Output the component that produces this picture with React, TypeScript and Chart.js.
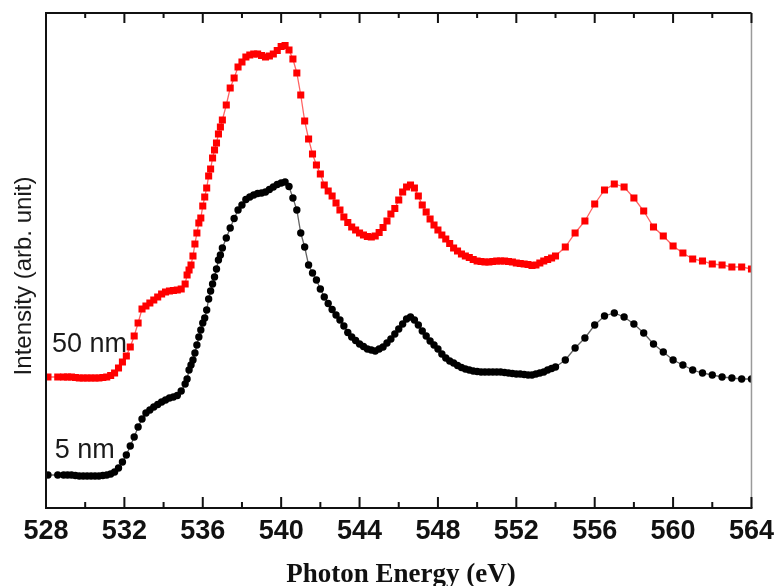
import React, { useEffect, useRef } from "react";
import { Chart, registerables } from "chart.js";

Chart.register(...registerables);

// Photon energy (eV) shared by both spectra
const energies = [
  528.1, 528.6, 528.9, 529.1, 529.3, 529.5, 529.7, 529.9, 530.1, 530.3, 530.5, 530.7, 530.9,
  531.1, 531.3, 531.5, 531.7, 531.9, 532.1, 532.3, 532.5, 532.7, 532.9, 533.1, 533.3, 533.5, 533.7, 533.9, 534.1, 534.3, 534.5, 534.7, 534.9, 535.1,
  535.2, 535.3, 535.4, 535.5, 535.6, 535.7, 535.8, 535.9, 536.0, 536.1, 536.2, 536.3, 536.4, 536.5, 536.6, 536.7, 536.8, 536.9, 537.0,
  537.2, 537.4, 537.6, 537.8, 538.0, 538.2, 538.4, 538.6, 538.8, 539.0,
  539.2, 539.4, 539.6, 539.8, 540.0, 540.2, 540.4, 540.6, 540.8, 541.0,
  541.2, 541.4, 541.6, 541.8, 542.0, 542.2, 542.4, 542.6, 542.8, 543.0,
  543.2, 543.4, 543.6, 543.8, 544.0, 544.2, 544.4, 544.6, 544.8, 545.0,
  545.2, 545.4, 545.6, 545.8, 546.0, 546.2, 546.4, 546.6, 546.8, 547.0,
  547.2, 547.4, 547.6, 547.8, 548.0, 548.2, 548.4, 548.6, 548.8, 549.0,
  549.2, 549.4, 549.6, 549.8, 550.0, 550.2, 550.4, 550.6, 550.8, 551.0,
  551.2, 551.4, 551.6, 551.8, 552.0, 552.2, 552.4, 552.6, 552.8, 553.0,
  553.2, 553.4, 553.6, 553.8,
  554.0, 554.5, 555.0, 555.5, 556.0, 556.5, 557.0, 557.5, 558.0, 558.5, 559.0, 559.5, 560.0, 560.5, 561.0, 561.5, 562.0, 562.5, 563.0, 563.5, 564.0,
];

// 50 nm film (red squares)
const intensity50nm = [
  26.2, 26.2, 26.2, 26.2, 26.2, 26.1, 26.0, 26.0, 26.0, 26.0, 26.0, 26.0, 26.1,
  26.2, 26.5, 27.0, 28.0, 29.2, 30.4, 32.2, 34.4, 37.0, 39.8, 40.4, 41.0, 41.6, 42.2, 42.8, 43.2, 43.4, 43.5, 43.6, 43.8, 44.8,
  46.6, 47.6, 48.6, 50.4, 52.8, 55.0, 57.0, 58.0, 60.4, 62.2, 64.0, 66.4, 67.8, 70.0, 71.6, 73.0, 74.8, 76.2, 77.6,
  80.6, 84.0, 86.0, 88.2, 89.2, 90.2, 90.6, 90.8, 90.8, 90.5,
  90.2, 90.4, 90.8, 91.5, 92.3, 92.5, 91.6, 89.8, 87.0, 82.6,
  77.4, 73.8, 70.8, 68.6, 66.8, 64.6, 63.4, 62.4, 61.0, 59.6,
  58.2, 57.1, 56.2, 55.6, 55.0, 54.6, 54.3, 54.2, 54.4, 55.1,
  56.1, 57.4, 58.8, 59.9, 61.6, 63.2, 64.2, 64.6, 64.0, 62.4,
  60.6, 59.2, 57.8, 56.6, 55.6, 54.6, 53.8, 52.9, 52.0, 51.4,
  50.8, 50.4, 50.1, 49.7, 49.4, 49.3, 49.2, 49.2, 49.3, 49.4,
  49.4, 49.4, 49.3, 49.2, 49.0, 48.9, 48.8, 48.7, 48.5, 48.6,
  49.0, 49.4, 49.7, 50.0,
  50.4, 52.2, 55.0, 57.4, 60.8, 63.6, 64.8, 64.2, 62.0, 59.4, 56.2, 54.4, 52.4, 51.0, 49.8, 49.4, 48.8, 48.6, 48.2, 48.2, 47.8,
];

// 5 nm film (black circles)
const intensity5nm = [
  6.6, 6.6, 6.6, 6.6, 6.6, 6.5, 6.4, 6.4, 6.4, 6.4, 6.4, 6.4, 6.5,
  6.6, 6.8, 7.2, 8.0, 9.2, 10.6, 12.4, 14.2, 16.2, 17.8, 19.0, 19.6, 20.2, 20.7, 21.2, 21.6, 22.0, 22.2, 22.5, 23.4, 24.8,
  25.8, 27.6, 28.6, 29.6, 31.0, 32.6, 34.2, 35.6, 37.0, 38.0, 39.6, 41.8, 43.4, 44.8, 46.2, 47.8, 49.6, 50.6, 52.0,
  54.0, 56.0, 57.9, 59.6, 60.6, 61.7, 62.2, 62.6, 62.9, 63.0,
  63.2, 63.7, 64.2, 64.7, 65.0, 65.2, 64.3, 62.0, 59.6, 55.0,
  52.2, 48.6, 47.0, 45.6, 43.8, 42.2, 40.9, 39.7, 38.6, 37.6,
  36.4, 35.1, 34.2, 33.5, 32.8, 32.3, 31.8, 31.6, 31.4, 31.8,
  32.2, 33.0, 33.8, 34.8, 35.8, 36.8, 37.8, 38.2, 37.6, 36.6,
  35.4, 34.4, 33.4, 32.6, 31.8, 30.8, 30.0, 29.4, 29.0, 28.5,
  28.1, 27.8, 27.6, 27.4, 27.3, 27.2, 27.2, 27.2, 27.2, 27.2,
  27.2, 27.1, 27.0, 26.9, 26.8, 26.8, 26.7, 26.6, 26.6, 26.8,
  27.0, 27.2, 27.6, 27.9,
  28.2, 29.6, 32.0, 34.0, 36.6, 38.4, 39.0, 38.2, 36.8, 35.0, 32.8, 31.2, 29.6, 28.6, 27.6, 27.0, 26.6, 26.2, 26.0, 25.8, 25.8,
];

const majorTicks = [528, 532, 536, 540, 544, 548, 552, 556, 560, 564];
const minorTicks = [530, 534, 538, 542, 546, 550, 554, 558, 562];
const seriesNames = ["50 nm", "5 nm"];
const xTitle = "Photon Energy (eV)";
const yTitle = "Intensity (arb. unit)";

export default function App() {
  const ref = useRef<HTMLCanvasElement | null>(null);

  useEffect(() => {
    document.body.style.margin = "0";
    const canvas = ref.current;
    if (!canvas) return;

    const framePlugin = {
      id: "frame",
      afterDraw(chart: any) {
        const { ctx, chartArea } = chart;
        const { left, right, top, bottom } = chartArea;
        const xs = chart.scales.x;
        const ys = chart.scales.y;
        ctx.save();
        // frame
        ctx.lineCap = "butt";
        ctx.strokeStyle = "#111";
        ctx.lineWidth = 2;
        ctx.beginPath();
        ctx.moveTo(left, top);
        ctx.lineTo(right, top);
        ctx.moveTo(left, top - 1);
        ctx.lineTo(left, bottom + 1);
        ctx.moveTo(left - 1, bottom);
        ctx.lineTo(right + 1, bottom);
        ctx.stroke();
        ctx.strokeStyle = "#9a9a9a";
        ctx.lineWidth = 1.5;
        ctx.beginPath();
        ctx.moveTo(right, top);
        ctx.lineTo(right, bottom);
        ctx.stroke();
        // inward ticks, bottom and top
        ctx.strokeStyle = "#111";
        ctx.lineWidth = 2;
        ctx.beginPath();
        majorTicks.forEach((v) => {
          const px = xs.getPixelForValue(v);
          ctx.moveTo(px, bottom);
          ctx.lineTo(px, bottom - 11);
          ctx.moveTo(px, top);
          ctx.lineTo(px, top + 10);
        });
        minorTicks.forEach((v) => {
          const px = xs.getPixelForValue(v);
          ctx.moveTo(px, bottom);
          ctx.lineTo(px, bottom - 6);
          ctx.moveTo(px, top);
          ctx.lineTo(px, top + 5);
        });
        ctx.stroke();

        // series labels
        ctx.fillStyle = "#1a1a1a";
        ctx.font = "27px 'Liberation Sans', Arial, sans-serif";
        ctx.textAlign = "left";
        ctx.textBaseline = "alphabetic";
        ctx.fillText(seriesNames[0], xs.getPixelForValue(528.3), ys.getPixelForValue(31.2));
        ctx.fillText(seriesNames[1], xs.getPixelForValue(528.45), ys.getPixelForValue(10.0));

        // x title
        ctx.font = "bold 27px 'Liberation Serif', 'Times New Roman', serif";
        ctx.textAlign = "center";
        ctx.fillStyle = "#111";
        ctx.fillText(xTitle, 401, 582);

        // y title
        ctx.translate(31, 276);
        ctx.rotate(-Math.PI / 2);
        ctx.font = "24px 'Liberation Sans', Arial, sans-serif";
        ctx.fillStyle = "#1a1a1a";
        ctx.fillText(yTitle, 0, 0);
        ctx.restore();
      },
    };

    const chart = new Chart(canvas, {
      type: "line",
      data: {
        datasets: [
          {
            label: seriesNames[0],
            data: energies.map((e, i) => ({ x: e, y: intensity50nm[i] })),
            borderColor: "rgba(255,60,60,0.8)",
            borderWidth: 1.3,
            pointStyle: "rect",
            pointRadius: 5,
            pointBackgroundColor: "#ff0000",
            pointBorderWidth: 0,
            tension: 0,
          },
          {
            label: seriesNames[1],
            data: energies.map((e, i) => ({ x: e, y: intensity5nm[i] })),
            borderColor: "rgba(60,60,60,0.8)",
            borderWidth: 1.3,
            pointStyle: "circle",
            pointRadius: 3.7,
            pointBackgroundColor: "#000000",
            pointBorderWidth: 0,
            tension: 0,
          },
        ],
      },
      options: {
        animation: false,
        responsive: false,
        maintainAspectRatio: false,
        layout: { padding: { left: 46, right: 29, top: 13, bottom: 0 } },
        plugins: { legend: { display: false }, tooltip: { enabled: false } },
        scales: {
          x: {
            type: "linear",
            min: 528,
            max: 564,
            afterBuildTicks: (s: any) => {
              s.ticks = majorTicks.map((v) => ({ value: v }));
            },
            ticks: {
              font: { family: "'Liberation Sans', Arial, sans-serif", size: 27, weight: "bold" },
              color: "#111",
              padding: 7,
              maxRotation: 0,
              autoSkip: false,
            },
            grid: { display: false, drawTicks: false },
            border: { display: false },
            afterFit: (s: any) => {
              s.height = 78;
            },
          },
          y: { display: false, min: 0, max: 99 },
        },
      },
      plugins: [framePlugin],
    });
    return () => chart.destroy();
  }, []);

  return (
    <div style={{ width: 781, height: 586, position: "relative" }}>
      <canvas ref={ref} width={781} height={586} style={{ display: "block" }} />
    </div>
  );
}
